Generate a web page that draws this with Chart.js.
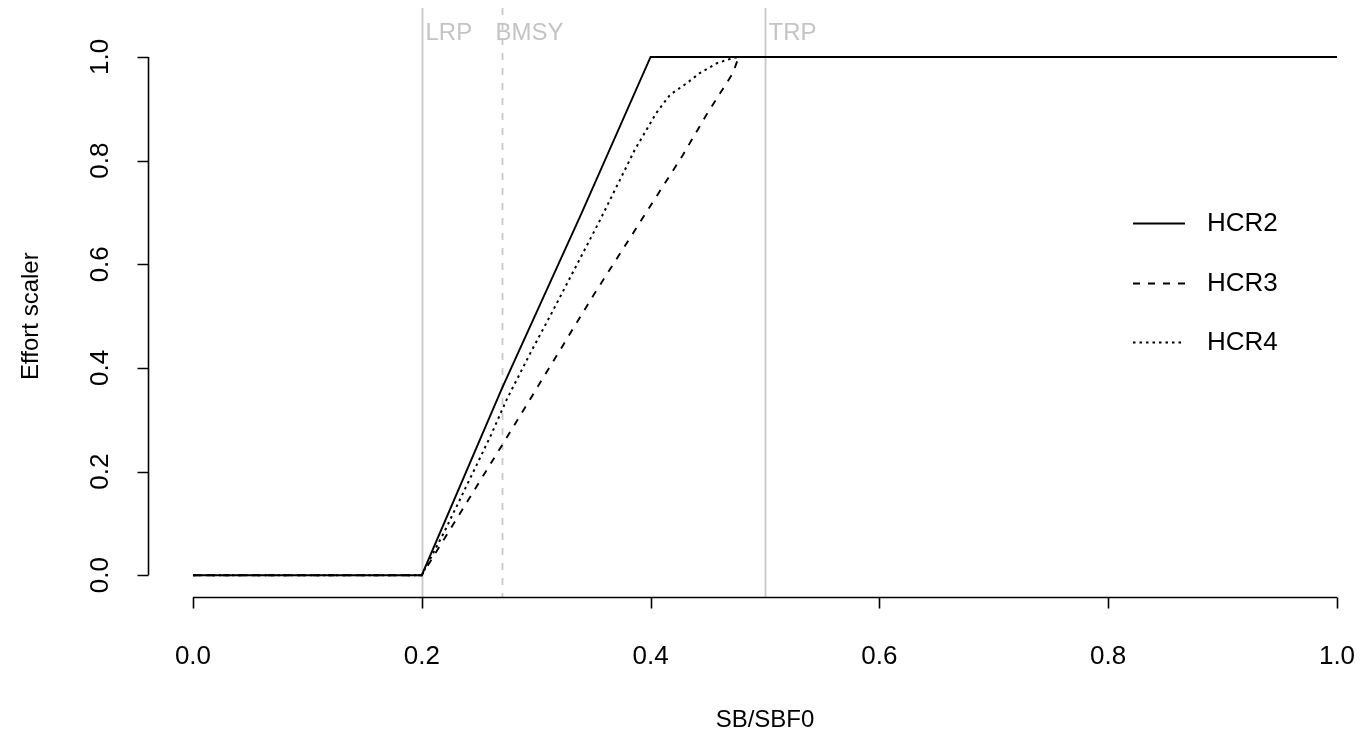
<!DOCTYPE html>
<html>
<head>
<meta charset="utf-8">
<script src="https://cdn.jsdelivr.net/npm/chart.js@4.4.1/dist/chart.umd.min.js"></script>
<style>
  html, body { margin: 0; padding: 0; background: #fff; }
  #wrap { width: 1360px; height: 735px; position: relative; }
</style>
</head>
<body>
<div id="wrap"><canvas id="hcrChart"></canvas></div>
<script>
// Harvest control rules (SB/SBF0 -> effort scaler)
const hcr2X = [0, 0.2, 0.27, 0.34, 0.4, 1.0];
const hcr2Y = [0, 0, 0.36, 0.70, 1.0, 1.0];

const hcr3X = [0, 0.2, 0.273, 0.35, 0.428, 0.449, 0.472, 0.477, 1.0];
const hcr3Y = [0, 0, 0.261, 0.54, 0.81, 0.889, 0.969, 1.0, 1.0];

const hcr4X = [0, 0.2, 0.22, 0.26, 0.274, 0.295, 0.315, 0.356, 0.386, 0.405, 0.417, 0.432, 0.443, 0.458, 0.472, 0.477, 1.0];
const hcr4Y = [0, 0, 0.085, 0.268, 0.338, 0.429, 0.512, 0.686, 0.82, 0.892, 0.927, 0.95, 0.969, 0.988, 0.998, 1.0, 1.0];

// Reference points
const refX = [0.2, 0.27, 0.5];
const refLabels = ['LRP', 'BMSY', 'TRP'];
const refDashed = [false, true, false];
const refLabelY = 1.045;

// Axis ticks
const xTicks = [0, 0.2, 0.4, 0.6, 0.8, 1.0];
const yTicks = [0, 0.2, 0.4, 0.6, 0.8, 1.0];

const FONT = '"Liberation Sans", Arial, sans-serif';
const TITLE_SIZE = 24;
const TICK_SIZE = 26;
const DASH = [7, 8];
const DOT = [2.5, 4];

function toPoints(xs, ys) {
    return xs.map((v, i) => ({ x: v, y: ys[i] }));
}

// grey reference lines with their labels, under the curves
const refLinesPlugin = {
    id: 'refLines',
    beforeDatasetsDraw(chart) {
        const { ctx, chartArea, scales: { x, y } } = chart;
        ctx.save();
        refX.forEach((rx, i) => {
            const px = Math.round(x.getPixelForValue(rx)) + 0.5;
            ctx.strokeStyle = '#c8c8c8';
            ctx.lineWidth = 1.8;
            ctx.setLineDash(refDashed[i] ? DASH : []);
            ctx.beginPath();
            ctx.moveTo(px, chartArea.top);
            ctx.lineTo(px, chartArea.bottom);
            ctx.stroke();

            ctx.setLineDash([]);
            ctx.fillStyle = '#c4c4c4';
            ctx.font = TITLE_SIZE + 'px ' + FONT;
            ctx.textAlign = 'left';
            ctx.textBaseline = 'middle';
            ctx.fillText(refLabels[i], px + (refDashed[i] ? -7 : 3), y.getPixelForValue(refLabelY));
        });
        ctx.restore();
    }
};

// R-style axes, titles and legend
const rAxesPlugin = {
    id: 'rAxes',
    afterDraw(chart) {
        const { ctx, chartArea, scales: { x, y } } = chart;
        const tick = 11;
        ctx.save();
        ctx.strokeStyle = '#000';
        ctx.fillStyle = '#000';
        ctx.lineWidth = 1.6;
        ctx.textAlign = 'center';
        ctx.textBaseline = 'middle';

        // x axis
        const ax = chartArea.bottom + 0.5;
        ctx.beginPath();
        ctx.moveTo(x.getPixelForValue(xTicks[0]), ax);
        ctx.lineTo(x.getPixelForValue(xTicks[xTicks.length - 1]), ax);
        xTicks.forEach(t => {
            const px = Math.round(x.getPixelForValue(t)) + 0.5;
            ctx.moveTo(px, ax);
            ctx.lineTo(px, ax + tick);
        });
        ctx.stroke();
        ctx.font = TICK_SIZE + 'px ' + FONT;
        xTicks.forEach(t => ctx.fillText(t.toFixed(1), x.getPixelForValue(t), 657));
        ctx.font = TITLE_SIZE + 'px ' + FONT;
        ctx.fillText('SB/SBF0', (x.getPixelForValue(0) + x.getPixelForValue(1)) / 2, 720);

        // y axis
        const ay = chartArea.left + 0.5;
        ctx.beginPath();
        ctx.moveTo(ay, y.getPixelForValue(yTicks[0]));
        ctx.lineTo(ay, y.getPixelForValue(yTicks[yTicks.length - 1]));
        yTicks.forEach(t => {
            const py = Math.round(y.getPixelForValue(t)) + 0.5;
            ctx.moveTo(ay, py);
            ctx.lineTo(ay - tick, py);
        });
        ctx.stroke();
        ctx.font = TICK_SIZE + 'px ' + FONT;
        yTicks.forEach(t => {
            ctx.save();
            ctx.translate(101, y.getPixelForValue(t));
            ctx.rotate(-Math.PI / 2);
            ctx.fillText(t.toFixed(1), 0, 0);
            ctx.restore();
        });
        ctx.font = TITLE_SIZE + 'px ' + FONT;
        ctx.save();
        ctx.translate(31, (y.getPixelForValue(0) + y.getPixelForValue(1)) / 2);
        ctx.rotate(-Math.PI / 2);
        ctx.fillText('Effort scaler', 0, 0);
        ctx.restore();

        // legend (no box)
        const rows = [223, 283, 342];
        ctx.font = TICK_SIZE + 'px ' + FONT;
        chart.data.datasets.forEach((ds, i) => {
            ctx.strokeStyle = ds.borderColor;
            ctx.lineWidth = ds.borderWidth;
            ctx.setLineDash(ds.borderDash || []);
            ctx.beginPath();
            ctx.moveTo(1133, rows[i] + 0.5);
            ctx.lineTo(1185, rows[i] + 0.5);
            ctx.stroke();
            ctx.setLineDash([]);
            ctx.textAlign = 'left';
            ctx.fillText(ds.label, 1207, rows[i] + 1);
        });
        ctx.restore();
    }
};

const ctx = document.getElementById('hcrChart').getContext('2d');

const hcrChart = new Chart(ctx, {
    type: 'line',
    data: {
        datasets: [
            { label: 'HCR2', data: toPoints(hcr2X, hcr2Y), borderColor: '#000', borderWidth: 1.9, borderDash: [] },
            { label: 'HCR3', data: toPoints(hcr3X, hcr3Y), borderColor: '#000', borderWidth: 1.9, borderDash: DASH },
            { label: 'HCR4', data: toPoints(hcr4X, hcr4Y), borderColor: '#000', borderWidth: 2, borderDash: DOT }
        ]
    },
    options: {
        responsive: true,
        maintainAspectRatio: false,
        animation: false,
        devicePixelRatio: 1,
        layout: { padding: { left: 148, top: 8, right: 0, bottom: 138 } },
        elements: {
            point: { radius: 0, hoverRadius: 0 },
            line: { tension: 0, fill: false, borderCapStyle: 'butt' }
        },
        scales: {
            x: { type: 'linear', min: -0.0393, max: 1.0201, display: false },
            y: { type: 'linear', min: -0.042, max: 1.0945, display: false }
        },
        plugins: {
            legend: { display: false },
            tooltip: { enabled: false }
        }
    },
    plugins: [refLinesPlugin, rAxesPlugin]
});
</script>
</body>
</html>
